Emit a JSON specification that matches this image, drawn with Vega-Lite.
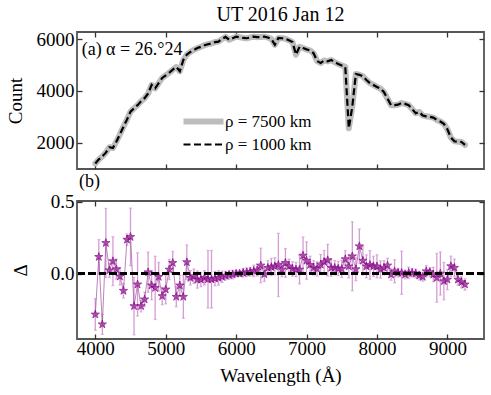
{
  "$schema": "https://vega.github.io/schema/vega-lite/v6.json",
  "padding": {"left": 5, "top": 4, "right": 5, "bottom": 5},
  "spacing": 0,
  "datasets": {
    "top": [
      {"wl":4000,"r7500":1205,"r1000":1205},{"wl":4050,"r7500":1360,"r1000":1360},{"wl":4100,"r7500":1480,"r1000":1480},{"wl":4150,"r7500":1620,"r1000":1620},
      {"wl":4200,"r7500":1830,"r1000":1830},{"wl":4250,"r7500":1800,"r1000":1800},{"wl":4300,"r7500":2050,"r1000":2050},{"wl":4350,"r7500":2330,"r1000":2330},
      {"wl":4400,"r7500":2620,"r1000":2620},{"wl":4450,"r7500":2900,"r1000":2900},{"wl":4500,"r7500":3200,"r1000":3200},{"wl":4550,"r7500":3330,"r1000":3330},
      {"wl":4600,"r7500":3450,"r1000":3450},{"wl":4650,"r7500":3600,"r1000":3600},{"wl":4700,"r7500":3720,"r1000":3720},{"wl":4750,"r7500":3900,"r1000":3900},
      {"wl":4800,"r7500":4230,"r1000":4230},{"wl":4850,"r7500":4100,"r1000":4100},{"wl":4900,"r7500":4300,"r1000":4300},{"wl":4950,"r7500":4500,"r1000":4500},
      {"wl":5000,"r7500":4600,"r1000":4600},{"wl":5050,"r7500":4700,"r1000":4700},{"wl":5100,"r7500":4820,"r1000":4820},{"wl":5150,"r7500":4920,"r1000":4920},
      {"wl":5200,"r7500":4760,"r1000":4760},{"wl":5250,"r7500":5190,"r1000":5190},{"wl":5300,"r7500":5400,"r1000":5400},{"wl":5350,"r7500":5500,"r1000":5500},
      {"wl":5400,"r7500":5580,"r1000":5580},{"wl":5450,"r7500":5650,"r1000":5650},{"wl":5500,"r7500":5700,"r1000":5700},{"wl":5550,"r7500":5760,"r1000":5760},
      {"wl":5600,"r7500":5800,"r1000":5800},{"wl":5650,"r7500":5830,"r1000":5830},{"wl":5700,"r7500":5880,"r1000":5880},{"wl":5750,"r7500":5900,"r1000":5900},
      {"wl":5800,"r7500":6000,"r1000":6000},{"wl":5850,"r7500":6080,"r1000":6080},{"wl":5900,"r7500":5970,"r1000":5970},{"wl":5950,"r7500":6030,"r1000":6030},
      {"wl":6000,"r7500":6090,"r1000":6090},{"wl":6050,"r7500":6070,"r1000":6070},{"wl":6100,"r7500":6040,"r1000":6040},{"wl":6150,"r7500":6030,"r1000":6030},
      {"wl":6200,"r7500":6060,"r1000":6060},{"wl":6250,"r7500":6090,"r1000":6090},{"wl":6300,"r7500":6070,"r1000":6070},{"wl":6350,"r7500":6080,"r1000":6080},
      {"wl":6400,"r7500":6090,"r1000":6090},{"wl":6450,"r7500":6060,"r1000":6060},{"wl":6500,"r7500":6000,"r1000":6000},{"wl":6550,"r7500":5780,"r1000":5780},
      {"wl":6600,"r7500":6040,"r1000":6040},{"wl":6650,"r7500":6030,"r1000":6030},{"wl":6700,"r7500":6010,"r1000":6010},{"wl":6750,"r7500":5950,"r1000":5950},
      {"wl":6800,"r7500":5880,"r1000":5880},{"wl":6850,"r7500":5400,"r1000":5400},{"wl":6900,"r7500":5700,"r1000":5700},{"wl":6950,"r7500":5650,"r1000":5650},
      {"wl":7000,"r7500":5600,"r1000":5600},{"wl":7050,"r7500":5560,"r1000":5560},{"wl":7100,"r7500":5450,"r1000":5450},{"wl":7150,"r7500":5150,"r1000":5150},
      {"wl":7200,"r7500":5080,"r1000":5080},{"wl":7250,"r7500":5170,"r1000":5170},{"wl":7300,"r7500":5140,"r1000":5140},{"wl":7350,"r7500":5190,"r1000":5190},
      {"wl":7400,"r7500":5110,"r1000":5110},{"wl":7450,"r7500":5040,"r1000":5040},{"wl":7500,"r7500":4980,"r1000":4980},{"wl":7550,"r7500":4930,"r1000":4930},
      {"wl":7600,"r7500":2560,"r1000":2560},{"wl":7650,"r7500":3400,"r1000":3400},{"wl":7700,"r7500":4650,"r1000":4650},{"wl":7750,"r7500":4620,"r1000":4620},
      {"wl":7800,"r7500":4560,"r1000":4560},{"wl":7850,"r7500":4420,"r1000":4420},{"wl":7900,"r7500":4300,"r1000":4300},{"wl":7950,"r7500":4230,"r1000":4230},
      {"wl":8000,"r7500":4150,"r1000":4150},{"wl":8050,"r7500":4090,"r1000":4090},{"wl":8100,"r7500":3950,"r1000":3950},{"wl":8150,"r7500":3700,"r1000":3700},
      {"wl":8200,"r7500":3450,"r1000":3450},{"wl":8250,"r7500":3450,"r1000":3450},{"wl":8300,"r7500":3470,"r1000":3470},{"wl":8350,"r7500":3530,"r1000":3530},
      {"wl":8400,"r7500":3500,"r1000":3500},{"wl":8450,"r7500":3450,"r1000":3450},{"wl":8500,"r7500":3300,"r1000":3300},{"wl":8550,"r7500":3140,"r1000":3140},
      {"wl":8600,"r7500":3190,"r1000":3190},{"wl":8650,"r7500":3050,"r1000":3050},{"wl":8700,"r7500":3020,"r1000":3020},{"wl":8750,"r7500":3000,"r1000":3000},
      {"wl":8800,"r7500":2970,"r1000":2970},{"wl":8850,"r7500":2880,"r1000":2880},{"wl":8900,"r7500":2820,"r1000":2820},{"wl":8950,"r7500":2730,"r1000":2730},
      {"wl":9000,"r7500":2520,"r1000":2520},{"wl":9050,"r7500":2200,"r1000":2200},{"wl":9100,"r7500":2060,"r1000":2060},{"wl":9150,"r7500":2040,"r1000":2040},
      {"wl":9200,"r7500":2030,"r1000":2030},{"wl":9250,"r7500":1920,"r1000":1920}
    ],
    "bot": [
      {"wl":4000,"d":-0.285,"err":0.11},{"wl":4050,"d":0.116,"err":0.12},{"wl":4100,"d":-0.354,"err":0.07},{"wl":4150,"d":0.213,"err":0.24},
      {"wl":4200,"d":0.023,"err":0.05},{"wl":4250,"d":0.086,"err":0.17},{"wl":4300,"d":0.03,"err":0.07},{"wl":4350,"d":-0.02,"err":0.06},
      {"wl":4400,"d":-0.12,"err":0.05},{"wl":4450,"d":0.236,"err":0.04},{"wl":4500,"d":0.255,"err":0.2},{"wl":4550,"d":-0.227,"err":0.2},
      {"wl":4600,"d":-0.076,"err":0.22},{"wl":4650,"d":-0.227,"err":0.04},{"wl":4700,"d":-0.18,"err":0.05},{"wl":4750,"d":0.009,"err":0.14},
      {"wl":4800,"d":-0.083,"err":0.1},{"wl":4850,"d":-0.1,"err":0.22},{"wl":4900,"d":-0.023,"err":0.1},{"wl":4950,"d":-0.157,"err":0.06},
      {"wl":5000,"d":-0.111,"err":0.1},{"wl":5050,"d":0.028,"err":0.07},{"wl":5100,"d":0.074,"err":0.08},{"wl":5150,"d":-0.162,"err":0.07},
      {"wl":5200,"d":-0.083,"err":0.07},{"wl":5250,"d":-0.162,"err":0.15},{"wl":5300,"d":0.079,"err":0.12},{"wl":5350,"d":-0.03,"err":0.05},
      {"wl":5400,"d":-0.019,"err":0.05},{"wl":5450,"d":-0.042,"err":0.06},{"wl":5500,"d":-0.042,"err":0.05},{"wl":5550,"d":-0.03,"err":0.05},
      {"wl":5600,"d":-0.04,"err":0.2},{"wl":5650,"d":-0.04,"err":0.2},{"wl":5700,"d":-0.035,"err":0.05},{"wl":5750,"d":-0.03,"err":0.05},
      {"wl":5800,"d":-0.023,"err":0.04},{"wl":5850,"d":-0.015,"err":0.03},{"wl":5900,"d":-0.01,"err":0.03},{"wl":5950,"d":-0.007,"err":0.03},
      {"wl":6000,"d":0.0,"err":0.02},{"wl":6050,"d":0.0,"err":0.02},{"wl":6100,"d":0.005,"err":0.03},{"wl":6150,"d":0.009,"err":0.03},
      {"wl":6200,"d":0.012,"err":0.03},{"wl":6250,"d":0.018,"err":0.04},{"wl":6300,"d":0.023,"err":0.04},{"wl":6350,"d":0.056,"err":0.12},
      {"wl":6400,"d":-0.005,"err":0.05},{"wl":6450,"d":0.04,"err":0.05},{"wl":6500,"d":0.045,"err":0.06},{"wl":6550,"d":0.05,"err":0.06},
      {"wl":6600,"d":0.06,"err":0.22},{"wl":6650,"d":0.028,"err":0.05},{"wl":6700,"d":0.074,"err":0.1},{"wl":6750,"d":0.05,"err":0.05},
      {"wl":6800,"d":0.032,"err":0.05},{"wl":6850,"d":0.028,"err":0.05},{"wl":6900,"d":0.028,"err":0.1},{"wl":6950,"d":0.125,"err":0.13},
      {"wl":7000,"d":0.09,"err":0.13},{"wl":7050,"d":0.06,"err":0.06},{"wl":7100,"d":0.04,"err":0.05},{"wl":7150,"d":0.032,"err":0.05},
      {"wl":7200,"d":0.063,"err":0.07},{"wl":7250,"d":0.08,"err":0.08},{"wl":7300,"d":0.093,"err":0.11},{"wl":7350,"d":0.04,"err":0.06},
      {"wl":7400,"d":0.04,"err":0.05},{"wl":7450,"d":0.035,"err":0.05},{"wl":7500,"d":0.032,"err":0.06},{"wl":7550,"d":0.1,"err":0.06},
      {"wl":7600,"d":0.05,"err":0.08},{"wl":7650,"d":0.12,"err":0.24},{"wl":7700,"d":0.03,"err":0.08},{"wl":7750,"d":0.19,"err":0.12},
      {"wl":7800,"d":0.09,"err":0.1},{"wl":7850,"d":0.05,"err":0.08},{"wl":7900,"d":0.06,"err":0.1},{"wl":7950,"d":0.05,"err":0.07},
      {"wl":8000,"d":0.05,"err":0.08},{"wl":8050,"d":0.028,"err":0.06},{"wl":8100,"d":0.04,"err":0.05},{"wl":8150,"d":0.056,"err":0.05},
      {"wl":8200,"d":-0.007,"err":0.04},{"wl":8250,"d":0.016,"err":0.08},{"wl":8300,"d":0.005,"err":0.03},{"wl":8350,"d":0.005,"err":0.15},
      {"wl":8400,"d":-0.007,"err":0.03},{"wl":8450,"d":0.005,"err":0.04},{"wl":8500,"d":0.005,"err":0.03},{"wl":8550,"d":0.0,"err":0.03},
      {"wl":8600,"d":-0.014,"err":0.03},{"wl":8650,"d":-0.023,"err":0.03},{"wl":8700,"d":0.016,"err":0.04},{"wl":8750,"d":0.01,"err":0.03},
      {"wl":8800,"d":-0.007,"err":0.05},{"wl":8850,"d":-0.03,"err":0.17},{"wl":8900,"d":0.0,"err":0.15},{"wl":8950,"d":-0.053,"err":0.13},
      {"wl":9000,"d":-0.042,"err":0.07},{"wl":9050,"d":0.051,"err":0.07},{"wl":9100,"d":0.04,"err":0.06},{"wl":9150,"d":-0.042,"err":0.04},
      {"wl":9200,"d":-0.06,"err":0.04},{"wl":9250,"d":-0.076,"err":0.04}
    ],
    "note": [{"label": "(a) α = 26.°24"}]
  },
  "vconcat": [
    {
      "width": 407,
      "height": 137,
      "title": {"text": "UT 2016 Jan 12", "fontSize": 20, "offset": 5, "frame": "group"},
      "data": {"name": "top"},
      "layer": [
        {
          "transform": [{"fold": ["r7500", "r1000"], "as": ["series", "count"]}, {"filter": "datum.series == 'r7500'"}],
          "mark": {"type": "line", "strokeWidth": 6, "strokeJoin": "round", "strokeCap": "round", "clip": true},
          "encoding": {
            "x": {"field": "wl", "type": "quantitative", "scale": {"domain": [3740, 9520], "nice": false, "zero": false},
                  "axis": {"orient": "bottom", "labels": false, "title": null, "values": [4000, 5000, 6000, 7000, 8000, 9000]}},
            "y": {"field": "count", "type": "quantitative", "scale": {"domain": [990, 6270], "nice": false, "zero": false},
                  "axis": {"orient": "left", "title": "Count", "values": [2000, 4000, 6000], "format": "d", "labelPadding": 8, "titlePadding": 11}},
            "color": {"field": "series", "type": "nominal", "scale": {"domain": ["r7500", "r1000"], "range": ["#bdbdbd", "#000000"]},
                      "legend": {"orient": "none", "legendX": 118, "legendY": 81, "title": null, "symbolType": "stroke", "symbolSize": 1600,
                                 "labelExpr": "datum.value == 'r7500' ? 'ρ = 7500 km' : 'ρ = 1000 km'", "labelFontSize": 17, "labelColor": "black",
                                 "labelOffset": 13, "rowPadding": 1,
                                 "encode": {"symbols": {"update": {"strokeWidth": {"signal": "datum.value == 'r7500' ? 6 : 2.2"}}}}}},
            "strokeDash": {"field": "series", "type": "nominal", "scale": {"domain": ["r7500", "r1000"], "range": [[1, 0], [7, 3.5]]}}
          }
        },
        {
          "transform": [{"fold": ["r7500", "r1000"], "as": ["series", "count"]}, {"filter": "datum.series == 'r1000'"}],
          "mark": {"type": "line", "strokeWidth": 2.2, "clip": true},
          "encoding": {
            "x": {"field": "wl", "type": "quantitative", "axis": {"orient": "top", "labels": false, "title": null, "values": [4000, 5000, 6000, 7000, 8000, 9000]}},
            "y": {"field": "count", "type": "quantitative", "axis": {"orient": "right", "labels": false, "title": null, "values": [2000, 4000, 6000]}},
            "color": {"field": "series", "type": "nominal"},
            "strokeDash": {"field": "series", "type": "nominal"}
          }
        },
        {
          "data": {"name": "note"},
          "mark": {"type": "text", "align": "left", "baseline": "top", "fontSize": 18, "font": "Liberation Serif", "color": "black"},
          "encoding": {
            "x": {"datum": 3806, "type": "quantitative", "axis": null},
            "y": {"datum": 5930, "type": "quantitative", "axis": null},
            "text": {"field": "label", "type": "nominal"}
          }
        }
      ],
      "resolve": {"axis": {"x": "independent", "y": "independent"}}
    },
    {
      "width": 407,
      "height": 138,
      "title": {"text": "(b)", "anchor": "start", "frame": "group", "fontSize": 18, "offset": 2, "dx": 2},
      "data": {"name": "bot"},
      "layer": [
        {
          "mark": {"type": "errorbar", "ticks": {"size": 3, "color": "#d49cd4"}, "color": "#d49cd4", "thickness": 1.3},
          "encoding": {
            "x": {"field": "wl", "type": "quantitative", "scale": {"domain": [3740, 9520], "nice": false, "zero": false},
                  "axis": {"orient": "bottom", "title": "Wavelength (Å)", "values": [4000, 5000, 6000, 7000, 8000, 9000], "format": "d", "labelPadding": 5, "titlePadding": 8}},
            "y": {"field": "d", "type": "quantitative", "scale": {"domain": [-0.456, 0.505], "nice": false, "zero": false},
                  "axis": {"orient": "left", "title": "Δ", "values": [-0.5, 0, 0.5], "format": ".1f", "labelPadding": 8, "titlePadding": 20}},
            "yError": {"field": "err"}
          }
        },
        {
          "mark": {"type": "line", "color": "#a050a0", "strokeWidth": 1, "opacity": 0.7},
          "encoding": {
            "x": {"field": "wl", "type": "quantitative", "axis": {"orient": "top", "labels": false, "title": null, "values": [4000, 5000, 6000, 7000, 8000, 9000]}},
            "y": {"field": "d", "type": "quantitative", "axis": {"orient": "right", "labels": false, "title": null, "values": [-0.5, 0, 0.5]}}
          }
        },
        {
          "mark": {"type": "point", "filled": true, "fill": "#a33aa3", "stroke": "#800080", "strokeWidth": 0.8, "opacity": 0.85, "size": 75,
                   "shape": "M0,-1L0.2245,-0.309L0.951,-0.309L0.363,0.118L0.588,0.809L0,0.382L-0.588,0.809L-0.363,0.118L-0.951,-0.309L-0.2245,-0.309Z"},
          "encoding": {
            "x": {"field": "wl", "type": "quantitative", "axis": null},
            "y": {"field": "d", "type": "quantitative", "axis": null}
          }
        },
        {
          "mark": {"type": "rule", "color": "black", "strokeWidth": 2, "strokeDash": [7, 3.5]},
          "encoding": {"y": {"datum": 0, "type": "quantitative", "axis": null}}
        }
      ],
      "resolve": {"axis": {"x": "independent", "y": "independent"}}
    }
  ],
  "config": {
    "font": "Liberation Serif",
    "view": {"stroke": "#555555", "strokeWidth": 1.8},
    "title": {"font": "Liberation Serif", "fontWeight": "normal", "color": "black"},
    "axis": {"grid": false, "domain": false, "tickSize": -5, "tickColor": "#333333", "tickWidth": 1.3,
             "labelFont": "Liberation Serif", "titleFont": "Liberation Serif", "labelFontSize": 19, "titleFontSize": 19,
             "labelColor": "black", "titleColor": "black", "titleFontWeight": "normal"},
    "legend": {"labelFont": "Liberation Serif"}
  }
}
